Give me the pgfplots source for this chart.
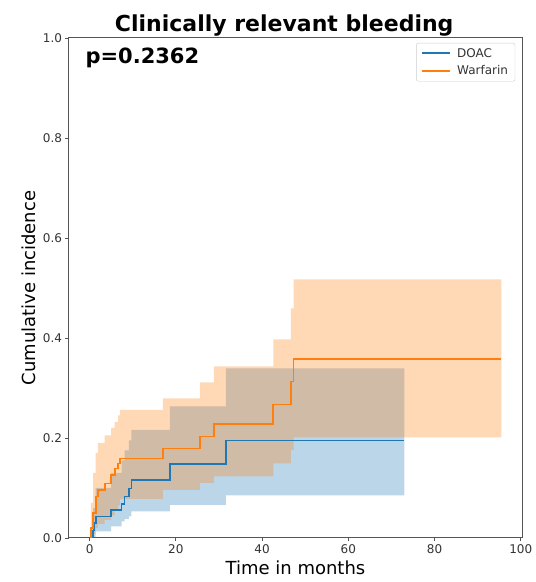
\documentclass[border=0pt]{standalone}
\usepackage{fontspec}
\setmainfont{DejaVu Sans}
\usepackage{pgfplots}
\pgfplotsset{compat=1.18}
\usepgfplotslibrary{fillbetween}
\definecolor{cdoac}{RGB}{31,119,180}
\definecolor{cwarf}{RGB}{255,127,14}
\definecolor{axgray}{RGB}{85,85,85}
\begin{document}
\begin{tikzpicture}
\begin{axis}[
  scale only axis,
  width=453pt, height=500pt,
  xmin=-4.78, xmax=100.28, ymin=0, ymax=1,
  xtick={0,20,40,60,80,100},
  ytick={0,0.2,0.4,0.6,0.8,1.0},
  yticklabel style={/pgf/number format/fixed,/pgf/number format/fixed zerofill,/pgf/number format/precision=1},
  /pgf/number format/assume math mode=true,
  tick align=outside, major tick length=3.5pt,
  tick style={axgray, line width=0.8pt},
  axis line style={axgray, line width=1pt},
  ticklabel style={font=\fontsize{12}{14}\selectfont, text=black!80},
  xtick pos=bottom, ytick pos=left,
  xlabel={Time in months},
  ylabel={Cumulative incidence},
  label style={font=\fontsize{18}{21}\selectfont},
  legend style={at={(0.985,0.99)}, anchor=north east, draw=black!20, rounded corners=2pt,
    font=\fontsize{12}{14}\selectfont, row sep=3pt, inner xsep=5pt, inner ysep=3pt, text=black!80},
  legend cell align=left,
  legend image code/.code={\draw[#1] (0pt,0pt) -- (28pt,0pt); \path (32pt,0pt);},
  clip=true,
]
% DOAC band
\addplot[name path=bu, draw=none, const plot, forget plot] coordinates {
 (0,0) (0.8,0.06) (1.4,0.10) (5.0,0.13) (7.4,0.155) (8.1,0.175) (9.1,0.195) (9.7,0.216)
 (18.6,0.263) (31.6,0.339) (73.0,0.339)};
\addplot[name path=bl, draw=none, const plot, forget plot] coordinates {
 (0,0) (0.8,0.0) (1.4,0.013) (5.0,0.023) (7.4,0.033) (8.1,0.038) (9.1,0.043) (9.7,0.053)
 (18.6,0.066) (31.6,0.085) (73.0,0.085)};
\addplot[fill=cdoac, fill opacity=0.3, draw=none, forget plot] fill between[of=bu and bl];
% Warfarin band
\addplot[name path=ou, draw=none, const plot, forget plot] coordinates {
 (0,0) (0.3,0.07) (0.8,0.13) (1.4,0.17) (1.9,0.19) (3.5,0.205) (5.0,0.22) (5.8,0.232)
 (6.6,0.245) (7.0,0.256) (17.0,0.279) (25.6,0.311) (28.8,0.343) (42.6,0.397)
 (46.7,0.459) (47.3,0.517) (95.5,0.517)};
\addplot[name path=ol, draw=none, const plot, forget plot] coordinates {
 (0,0) (0.8,0.008) (1.4,0.02) (1.9,0.028) (3.5,0.036) (5.0,0.045) (5.8,0.055) (6.6,0.065)
 (7.0,0.078) (17.0,0.096) (25.6,0.11) (28.8,0.123) (42.6,0.149) (46.7,0.176)
 (47.3,0.201) (95.5,0.201)};
\addplot[fill=cwarf, fill opacity=0.3, draw=none, forget plot] fill between[of=ou and ol];
% DOAC line
\addplot[draw=cdoac, line width=1.8pt, const plot] coordinates {
 (0,0) (0.8,0.015) (1.1,0.03) (1.4,0.043) (5.0,0.056) (7.4,0.068) (8.1,0.083) (9.1,0.099)
 (9.7,0.116) (18.6,0.148) (31.6,0.195) (73.0,0.195)};
% Warfarin line
\addplot[draw=cwarf, line width=1.8pt, const plot] coordinates {
 (0,0) (0.3,0.02) (0.8,0.05) (1.4,0.083) (1.9,0.096) (3.5,0.109) (5.0,0.126) (5.8,0.139)
 (6.6,0.149) (7.0,0.159) (17.0,0.179) (25.6,0.203) (28.8,0.228) (42.6,0.267)
 (46.7,0.313) (47.3,0.358) (95.5,0.358)};
\legend{DOAC,Warfarin}
\node[anchor=base west, font=\fontsize{21}{24}\selectfont\bfseries] at ([xshift=13pt,yshift=-26pt]rel axis cs:0,1) {p=0.2362};
\end{axis}
\node[anchor=base, font=\fontsize{22}{26}\selectfont\bfseries] at (0.475*453pt,506.5pt) {Clinically relevant bleeding};
\path (-69pt,-44pt) rectangle (465pt,538pt);
\end{tikzpicture}
\end{document}
